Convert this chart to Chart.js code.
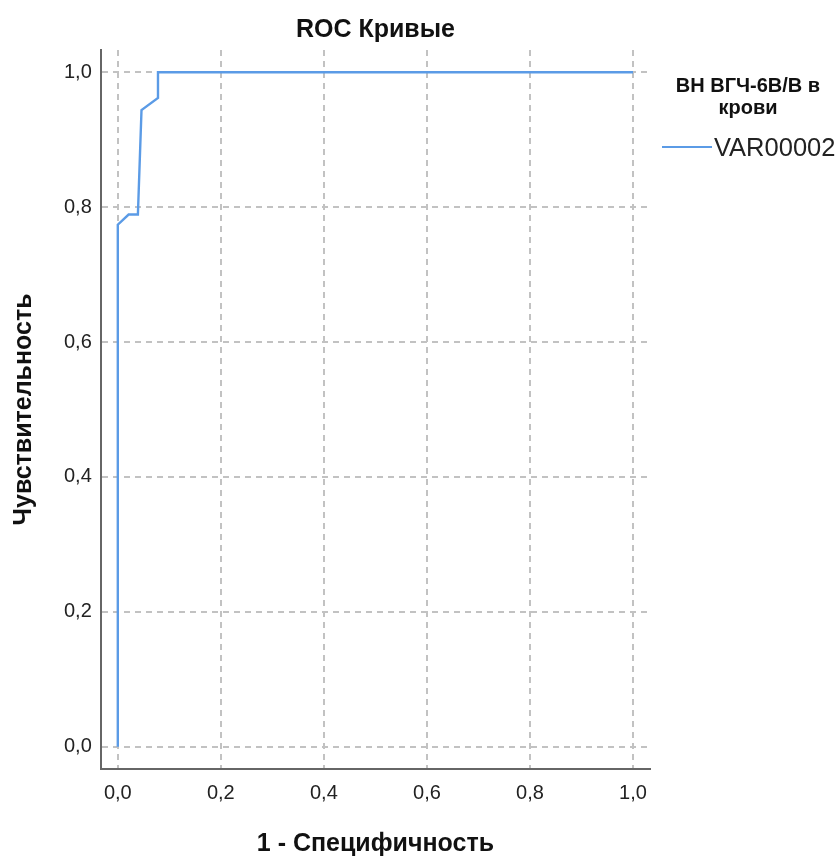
<!DOCTYPE html>
<html>
<head>
<meta charset="utf-8">
<script src="https://cdn.jsdelivr.net/npm/chart.js@4.4.1/dist/chart.umd.min.js"></script>
<style>
  body { margin: 0; background: #fff; }
  #wrap { position: relative; width: 838px; height: 856px; }
  #legend { position: absolute; left: 662px; top: 74px; width: 176px; font-family: "Liberation Sans", Arial, sans-serif; }
  #legend .title { font-weight: bold; font-size: 20px; text-align: center; line-height: 22px; color: #111; padding-right: 4px; }
  #legend .item { margin-top: 14px; display: flex; align-items: center; font-size: 25.5px; line-height: 30px; color: #222; }
  #legend .swatch { width: 50px; height: 2px; background: #5b9be6; margin-right: 2px; }
</style>
</head>
<body>
<div id="wrap">
  <canvas id="chart" width="838" height="856"></canvas>
  <div id="legend">
    <div class="title">ВН ВГЧ-6В/В в<br>крови</div>
    <div class="item"><span class="swatch"></span>VAR00002</div>
  </div>
</div>
<script>
// ROC curve points
const fpr = [0, 0, 0.021, 0.039, 0.046, 0.078, 0.078, 1];
const tpr = [0, 0.774, 0.789, 0.789, 0.944, 0.962, 1, 1];
const tickValues = [0, 0.2, 0.4, 0.6, 0.8, 1.0];
const chartTitle = 'ROC Кривые';

const fontFamily = '"Liberation Sans", Arial, sans-serif';
const fmt = v => v.toFixed(1).replace('.', ',');

const points = fpr.map((x, i) => ({ x: x, y: tpr[i] }));

const tickFont = { family: fontFamily, size: 20 };
const titleFont = { family: fontFamily, size: 25, weight: 'bold' };

function makeAxis(extra) {
    return Object.assign({
        type: 'linear',
        min: -0.033,
        max: 1.033,
        afterBuildTicks: axis => { axis.ticks = tickValues.map(v => ({ value: v })); },
        grid: { color: '#c2c2c2', lineWidth: 2, drawTicks: false },
        border: { display: true, color: '#666', width: 2, dash: [6, 5] }
    }, extra);
}

// title centred over the plot area, like the original
const plotTitle = {
    id: 'plotTitle',
    afterDraw: chart => {
        const ctx = chart.ctx;
        const area = chart.chartArea;
        ctx.save();
        ctx.font = 'bold 25px ' + fontFamily;
        ctx.fillStyle = '#111';
        ctx.textAlign = 'center';
        ctx.textBaseline = 'middle';
        ctx.fillText(chartTitle, (area.left + area.right) / 2, 30);
        ctx.restore();
    }
};

new Chart(document.getElementById('chart'), {
    type: 'scatter',
    data: {
        datasets: [{
            label: 'VAR00002',
            data: points,
            showLine: true,
            borderColor: '#5b9be6',
            borderWidth: 2.4,
            pointRadius: 0,
            tension: 0
        }]
    },
    options: {
        responsive: false,
        animation: false,
        layout: { padding: { left: 9, right: 188, top: 50, bottom: 0 } },
        plugins: {
            legend: { display: false },
            tooltip: { enabled: false },
            title: { display: false }
        },
        scales: {
            x: makeAxis({
                ticks: { callback: v => fmt(v), color: '#222', font: tickFont, padding: 12, maxRotation: 0 },
                title: { display: true, text: '1 - Специфичность', color: '#111', font: titleFont, padding: { top: 12, bottom: -3 } }
            }),
            y: makeAxis({
                ticks: { callback: v => fmt(v), color: '#222', font: tickFont, padding: 9 },
                title: { display: true, text: 'Чувствительность', color: '#111', font: titleFont, padding: { top: 0, bottom: 16 } }
            })
        }
    },
    plugins: [plotTitle]
});
</script>
</body>
</html>
